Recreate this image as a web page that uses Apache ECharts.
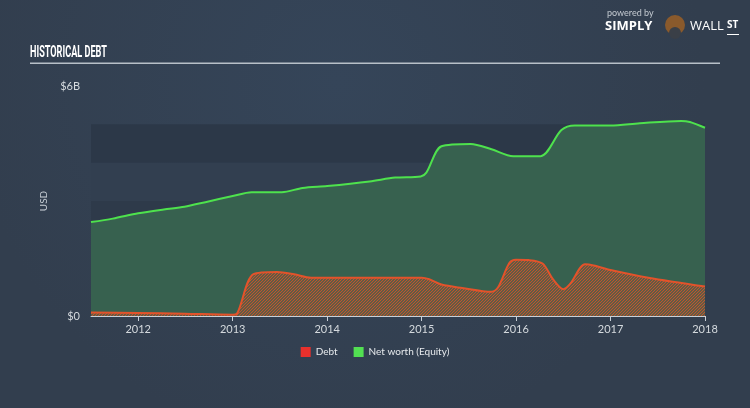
<!DOCTYPE html>
<html>
<head>
<meta charset="utf-8">
<script src="https://cdn.jsdelivr.net/npm/echarts@6/dist/echarts.min.js"></script>
<style>
html,body{margin:0;padding:0;background:#334152;}
#c{width:750px;height:408px;}
</style>
</head>
<body>
<div id="c"></div>
<script>
// Values in billions USD, dates as decimal years
const equityDates  = [2011.5, 2011.73, 2012.0, 2012.27, 2012.49, 2012.71, 2013.0, 2013.2, 2013.52, 2013.74, 2014.0, 2014.45, 2014.72, 2014.99, 2015.05, 2015.21, 2015.52, 2015.74, 2015.97, 2016.26, 2016.48, 2016.62, 2017.0, 2017.31, 2017.75, 2017.84, 2018.0];
const equityValues = [2.45, 2.54, 2.68, 2.78, 2.85, 2.97, 3.13, 3.23, 3.23, 3.34, 3.39, 3.51, 3.61, 3.64, 3.74, 4.43, 4.49, 4.35, 4.17, 4.17, 4.85, 4.97, 4.97, 5.03, 5.09, 5.06, 4.91];
const debtDates  = [2011.5, 2012.0, 2012.49, 2013.0, 2013.05, 2013.22, 2013.47, 2013.65, 2013.83, 2014.5, 2015.0, 2015.08, 2015.21, 2015.43, 2015.74, 2015.81, 2015.93, 2016.0, 2016.13, 2016.28, 2016.39, 2016.5, 2016.57, 2016.73, 2016.82, 2017.0, 2017.4, 2018.0];
const debtValues = [0.09, 0.08, 0.06, 0.035, 0.08, 1.09, 1.15, 1.09, 1.0, 1.0, 1.0, 0.96, 0.82, 0.73, 0.63, 0.75, 1.39, 1.47, 1.46, 1.37, 0.96, 0.70, 0.83, 1.35, 1.32, 1.2, 1.0, 0.77];
const yearTicks = [2012, 2013, 2014, 2015, 2016, 2017, 2018];
const yLabels = {0: '$0', 6: '$6B'};
const seriesNames = ['Debt', 'Net worth (Equity)'];
const titleText = 'HISTORICAL DEBT';

function zip(a, b) { return a.map((x, i) => [x, b[i]]); }

// hatch pattern
const pc = document.createElement('canvas');
pc.width = 3; pc.height = 3;
const px = pc.getContext('2d');
px.strokeStyle = '#c9542d';
px.lineWidth = 1.1;
px.beginPath();
px.moveTo(-1, 4); px.lineTo(4, -1);
px.moveTo(-1, 1); px.lineTo(1, -1);
px.moveTo(2, 4); px.lineTo(4, 2);
px.stroke();

// condensed title: measure and squeeze
const titleFont = 'bold 17px Roboto';
const mc = document.createElement('canvas').getContext('2d');
mc.font = titleFont;
const tw = mc.measureText(titleText).width;
const titleScale = 77 / tw;

const chart = echarts.init(document.getElementById('c'), null, {renderer: 'canvas'});
chart.setOption({
  backgroundColor: {
    type: 'radial', x: 0.45, y: 0.2, r: 0.9,
    colorStops: [{offset: 0, color: '#354559'}, {offset: 1, color: '#323e4e'}]
  },
  animation: false,
  grid: {left: 91, right: 45, top: 86, bottom: 92},
  legend: {
    bottom: 46, left: 'center',
    itemWidth: 10, itemHeight: 10, itemGap: 16,
    icon: 'rect',
    textStyle: {color: '#e6e9ec', fontSize: 10, fontFamily: 'Lato'},
    data: [{name: seriesNames[0], itemStyle: {color: '#e8302c'}}, {name: seriesNames[1], itemStyle: {color: '#52e052'}}]
  },
  xAxis: {
    type: 'value', min: 2011.5, max: 2018,
    axisLine: {show: true, lineStyle: {color: '#c9d0d7', width: 1}},
    axisTick: {show: true, customValues: yearTicks, length: 5, lineStyle: {color: '#c9d0d7'}},
    axisLabel: {customValues: yearTicks, color: '#d5dade', fontSize: 11, fontFamily: 'Lato', margin: 8, formatter: v => String(Math.round(v))},
    splitLine: {show: false}
  },
  yAxis: {
    type: 'value', min: 0, max: 6, interval: 1,
    name: 'USD', nameLocation: 'middle', nameGap: 24,
    nameTextStyle: {color: '#c9d0d7', fontSize: 10, fontFamily: 'Lato'},
    axisLine: {show: false}, axisTick: {show: false},
    axisLabel: {color: '#d5dade', fontSize: 11, fontFamily: 'Lato', margin: 11,
      formatter: v => (yLabels[v] !== undefined ? yLabels[v] : '')},
    splitLine: {show: false},
    splitArea: {show: true, areaStyle: {color: ['#2e3a4a', '#323f50', '#2e3a4a', '#323f50', '#2c3848', 'rgba(0,0,0,0)']}}
  },
  series: [
    {
      name: seriesNames[1], type: 'line', data: zip(equityDates, equityValues),
      smooth: 0.3, symbol: 'none',
      lineStyle: {color: '#4ee24d', width: 2},
      itemStyle: {color: '#52e052'},
      areaStyle: {color: '#37614f', opacity: 1},
      z: 2
    },
    {
      name: seriesNames[0], type: 'line', data: zip(debtDates, debtValues),
      smooth: 0.3, symbol: 'none',
      lineStyle: {color: '#e2532b', width: 2},
      itemStyle: {color: '#e8302c'},
      areaStyle: {color: {image: pc, repeat: 'repeat'}, opacity: 1},
      z: 3
    }
  ],
  graphic: [
    {type: 'text', x: 30, y: 44, scaleX: titleScale, style: {text: titleText, fill: '#ffffff', font: titleFont}},
    {type: 'rect', shape: {x: 30, y: 62.5, width: 690, height: 1.5}, style: {fill: '#b8c0c8'}},
    {type: 'text', left: 607, top: 9, style: {text: 'powered by', fill: '#c4cad1', font: '9px Lato'}},
    {type: 'text', left: 605, top: 20, style: {text: 'SIMPLY', fill: '#ffffff', font: 'bold 13px "Open Sans"'}},
    {type: 'circle', shape: {cx: 675, cy: 25, r: 10}, style: {fill: '#8a5a2c'}},
    {type: 'circle', shape: {cx: 675, cy: 33, r: 6}, style: {fill: '#3a3f47'}},
    {type: 'text', left: 690, top: 20, style: {text: 'WALL', fill: '#ffffff', font: '13px "Open Sans"'}},
    {type: 'text', left: 727, top: 20, style: {text: 'ST', fill: '#ffffff', font: 'bold 10px "Open Sans"'}},
    {type: 'rect', shape: {x: 727, y: 34, width: 12, height: 1}, style: {fill: '#ffffff'}}
  ]
});
</script>
</body>
</html>
